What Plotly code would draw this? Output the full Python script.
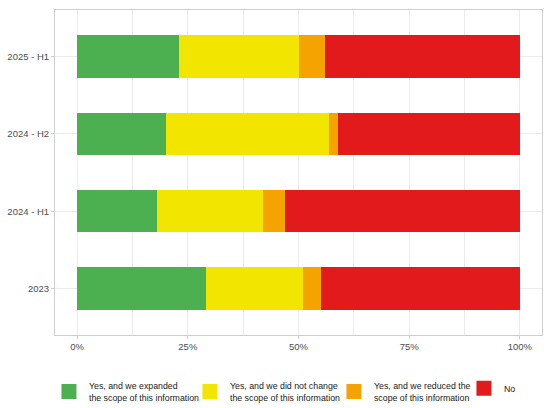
import plotly.graph_objects as go

# survey periods (bottom to top)
periods = ["2023", "2024 - H1", "2024 - H2", "2025 - H1"]

# share of answers per period, in %
expanded = [29, 18, 20, 23]
unchanged = [22, 24, 37, 27]
reduced = [4, 5, 2, 6]
no_answer = [45, 53, 41, 44]

labels = ["Yes, and we expanded<br>the scope of this information",
          "Yes, and we did not change<br>the scope of this information",
          "Yes, and we reduced the<br>scope of this information",
          "No"]
colors = ["#4caf50", "#f2e600", "#f5a300", "#e31a1c"]
entry_w = [96, 99, 85, 15]  # legend text slot widths

fig = go.Figure()
for name, vals, col in zip(labels, [expanded, unchanged, reduced, no_answer], colors):
    fig.add_trace(go.Bar(
        y=periods,
        x=[v / 100 for v in vals],
        name=name,
        orientation="h",
        marker=dict(color=col, line=dict(width=0)),
        width=0.55,
        showlegend=False,
    ))

# legend-only entries, so the keys can be bigger squares like ggplot's
for name, col, lw in zip(labels, colors, entry_w):
    fig.add_trace(go.Scatter(
        x=[None], y=[None], mode="markers", name=name,
        marker=dict(symbol="square", size=15, color=col),
        legendwidth=lw, hoverinfo="skip",
    ))

grid = "#ebebeb"
border = "#cfcfcf"
fig.update_layout(
    barmode="stack",
    width=550, height=408,
    margin=dict(l=55, r=8, t=10, b=73),
    plot_bgcolor="white",
    paper_bgcolor="white",
    font=dict(family="Liberation Sans, Arial, sans-serif", size=9.5, color="#4d4d4d"),
    legend=dict(orientation="h", x=0.089, xref="container", xanchor="left",
                y=0.04, yref="container", yanchor="middle",
                font=dict(size=8.8, color="#1a1a1a"), traceorder="normal",
                tracegroupgap=0),
)
fig.update_xaxes(
    range=[-0.05, 1.05],
    tickvals=[0, 0.25, 0.5, 0.75, 1],
    tickformat=".0%",
    showgrid=True, gridcolor=grid, gridwidth=1,
    minor=dict(tickvals=[0.125, 0.375, 0.625, 0.875], showgrid=True, gridcolor=grid, gridwidth=1),
    zeroline=False,
    showline=True, mirror=True, linecolor=border, linewidth=1,
    ticks="outside", ticklen=3, tickcolor=border,
    automargin=False,
)
fig.update_yaxes(
    categoryorder="array", categoryarray=periods,
    range=[-0.6, 3.6],
    showgrid=True, gridcolor=grid, gridwidth=1,
    zeroline=False,
    showline=True, mirror=True, linecolor=border, linewidth=1,
    ticks="outside", ticklen=3, tickcolor=border,
    automargin=False,
)

# drop the default body margin so the figure sits at the page corner
fig.write_html("out.html", config={"displayModeBar": False},
               post_script="document.body.style.margin='0';")
